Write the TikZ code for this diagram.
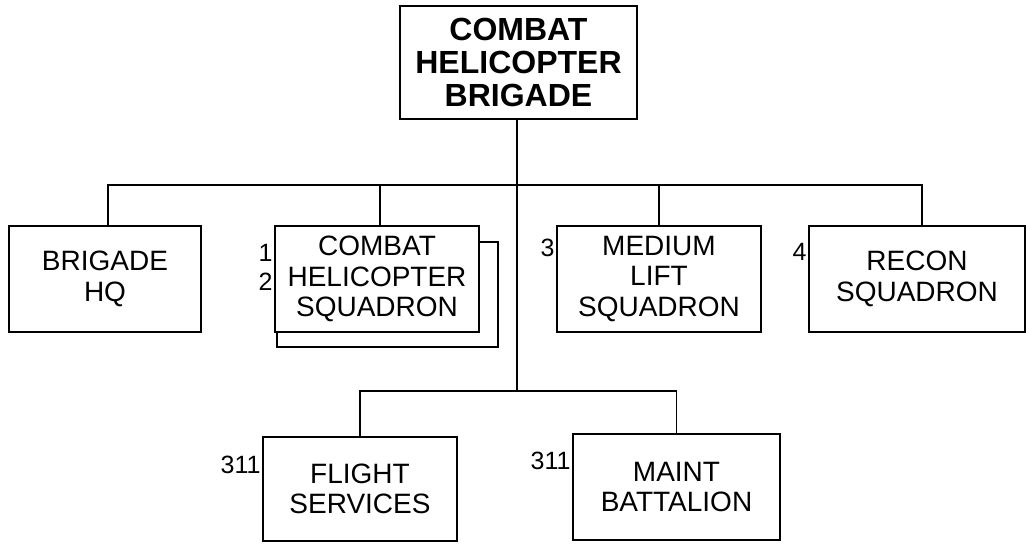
\documentclass[tikz,border=0pt]{standalone}
\usepackage{fontspec}
\setmainfont{Liberation Sans}
\begin{document}
\begin{tikzpicture}[x=1pt,y=-1pt,line width=1.5pt,
  unit/.style={draw=black,fill=white,align=center,inner sep=0pt,
    font=\fontsize{28}{30.5}\selectfont},
  topunit/.style={unit,font=\fontsize{32}{33}\selectfont\bfseries},
  tag/.style={anchor=east,inner sep=1pt,font=\fontsize{25}{27}\selectfont},
  conn/.style={draw=black,line width=1.5pt}]
\useasboundingbox (0,0) rectangle (1026,546);
% top
\node[topunit,minimum width=237pt,minimum height=113pt] (top) at (518.5,62.5)
  {COMBAT\\HELICOPTER\\BRIGADE};
% second row
\node[unit,minimum width=192pt,minimum height=106pt] (hq) at (105,279) {BRIGADE\\HQ};
\node[unit,minimum width=221pt,minimum height=105pt] (chsback) at (387.5,294.5) {};
\node[unit,minimum width=204pt,minimum height=106pt] (chs) at (377,279)
  {COMBAT\\HELICOPTER\\SQUADRON};
\node[unit,minimum width=204pt,minimum height=106pt] (med) at (659,279)
  {MEDIUM\\LIFT\\SQUADRON};
\node[unit,minimum width=216pt,minimum height=106pt] (recon) at (917,279)
  {RECON\\SQUADRON};
% third row
\node[unit,minimum width=194pt,minimum height=104pt] (flt) at (360,489)
  {FLIGHT\\SERVICES};
\node[unit,minimum width=207pt,minimum height=106pt] (mnt) at (676.5,487)
  {MAINT\\BATTALION};
% tags
\node[tag] (t1) at ([yshift=-28pt]chs.north west) {1};
\node[tag] (t2) at ([yshift=-57pt]chs.north west) {2};
\node[tag] (t3) at ([yshift=-23pt]med.north west) {3};
\node[tag] (t4) at ([yshift=-27pt]recon.north west) {4};
\node[tag] (t5) at ([yshift=-29pt]flt.north west) {311};
\node[tag] (t6) at ([yshift=-28pt]mnt.north west) {311};
% connectors
\coordinate (bar1) at (517,185);
\coordinate (bar2) at (517,391);
\coordinate (hqd) at ([xshift=3pt]hq.north);
\coordinate (chsd) at ([xshift=3pt]chs.north);
\coordinate (medd) at (med.north);
\coordinate (recd) at ([xshift=5pt]recon.north);
\draw[conn] (top.south -| bar1) -- (bar2);
\draw[conn] (hqd) -- (hqd |- bar1) -- (recd |- bar1) -- (recd);
\draw[conn] (chsd |- bar1) -- (chsd);
\draw[conn] (medd |- bar1) -- (medd);
\draw[conn] (flt.north) -- (flt.north |- bar2) -- (mnt.north |- bar2) -- (mnt.north);
\end{tikzpicture}
\end{document}
